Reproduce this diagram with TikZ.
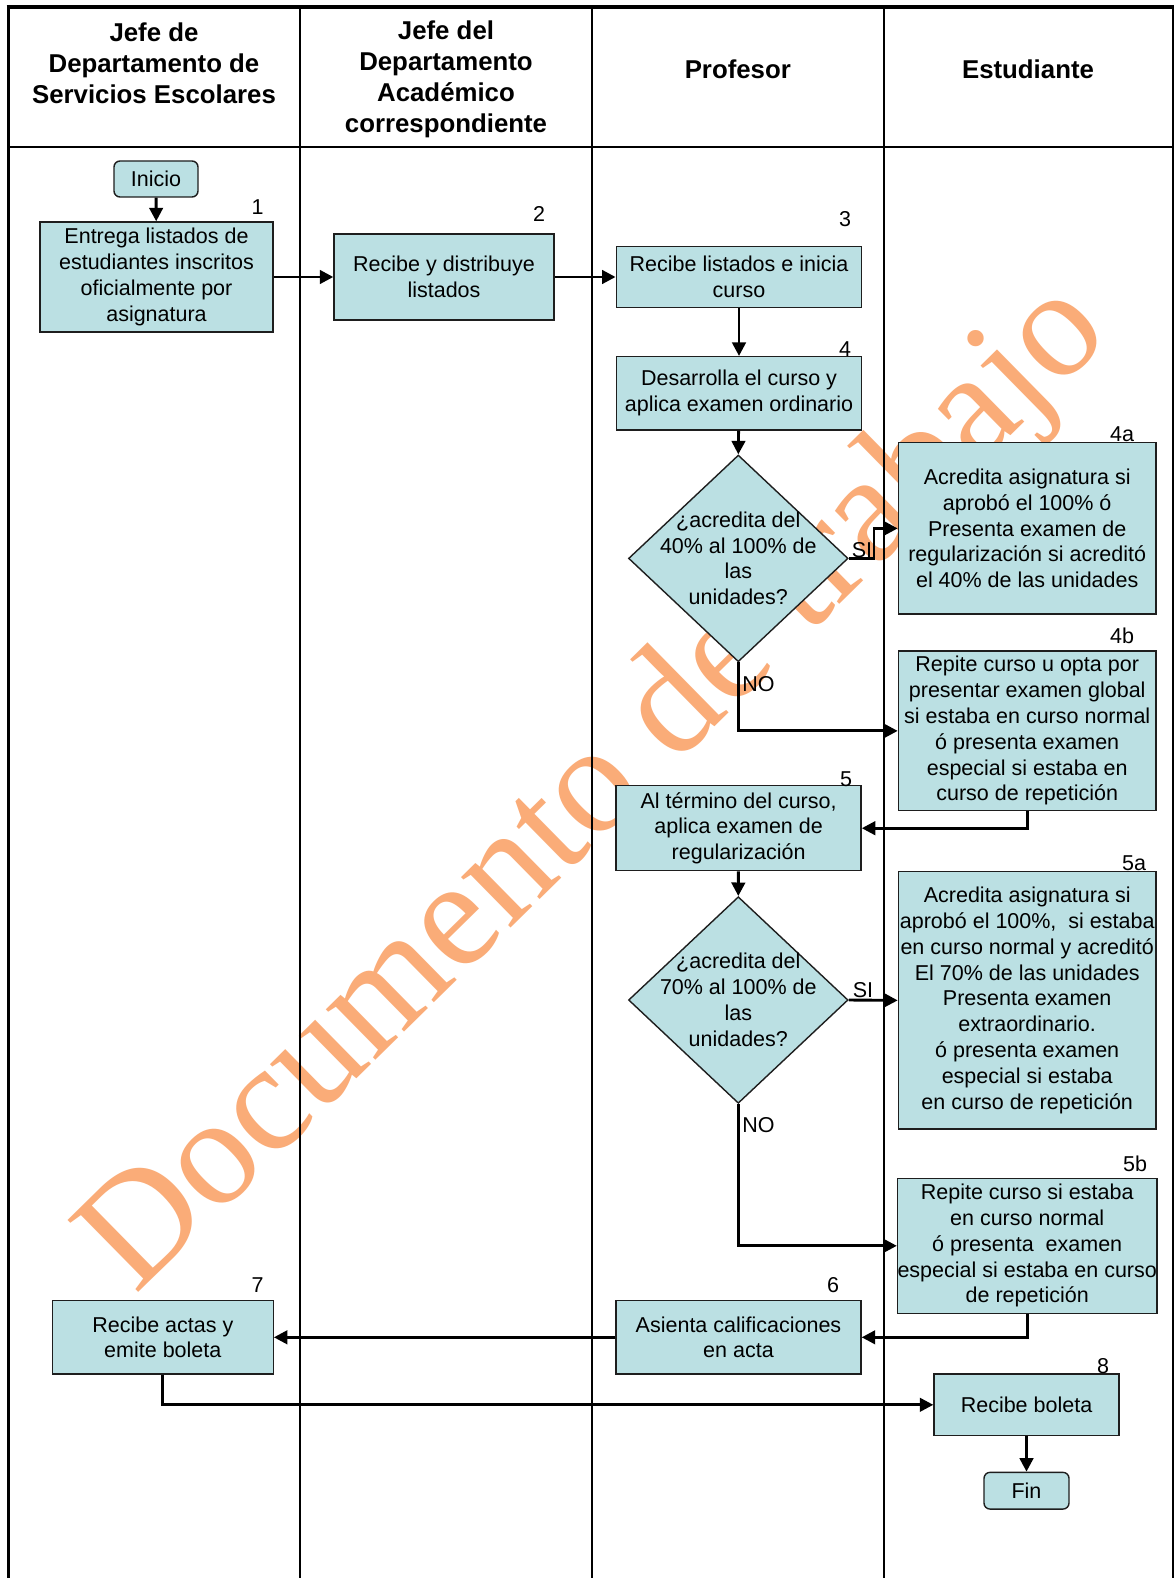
\documentclass[tikz,border=0pt]{standalone}
\usepackage{fontspec}
\setmainfont{Liberation Sans}
\newfontfamily\wmfont{Liberation Serif}
\usetikzlibrary{arrows.meta,shapes.geometric}
\definecolor{boxfill}{RGB}{187,224,227}
\definecolor{wmorange}{RGB}{250,172,120}
\definecolor{edge}{RGB}{30,30,30}
\begin{document}
\begin{tikzpicture}[x=1pt,y=-1pt,
  txt/.style={inner sep=0pt,align=center,font=\fontsize{21.5}{25.8}\selectfont},
  box/.style={txt,draw=edge,line width=1.4pt,fill=boxfill},
  term/.style={box,rounded corners=6pt},
  dia/.style={diamond,draw=edge,line width=1.4pt,fill=boxfill,inner sep=0pt},
  hdr/.style={inner sep=0pt,align=center,font=\fontsize{25.8}{31}\selectfont\bfseries},
  num/.style={inner sep=0pt,font=\fontsize{21.5}{25.8}\selectfont},
  arr/.style={line width=2.9pt,-{Triangle[length=13.5pt,width=13.5pt]}},
  lane/.style={line width=2pt}
]
\useasboundingbox (0,0) rectangle (1174,1578);
\fill[white] (0,0) rectangle (1174,1578);

% watermark
\node[rotate=44.5,inner sep=0pt,text=wmorange,font=\wmfont\fontsize{154}{154}\selectfont] (wm) at (598,790) {Documento de trabajo};

% swimlane frame
\draw[line width=4.3pt] (6.6,7.2) -- (1174,7.2);
\draw[line width=3.3pt] (8.3,5) -- (8.3,1578);
\draw[line width=2.7pt] (8.3,147) -- (1174,147);
\draw[lane] (300,7) -- (300,1578);
\draw[lane] (592,7) -- (592,1578);
\draw[lane] (883.5,7) -- (883.5,1578);
\draw[line width=1.6pt] (1173,7) -- (1173,1578);

% headers
\node[hdr] (h1) at (154,63.4) {Jefe de\\Departamento de\\Servicios Escolares};
\node[hdr] (h2) at (446,79) {Jefe del\\Departamento\\Académico\\correspondiente};
\node[hdr] (h3) at (737.8,69.4) {Profesor};
\node[hdr] (h4) at (1028,69.4) {Estudiante};

% nodes
\node[term,minimum width=84pt,minimum height=36pt] (inicio) at (156,179) {Inicio};
\node[box,minimum width=233pt,minimum height=110pt] (b1) at (156.5,277) {Entrega listados de\\estudiantes inscritos\\oficialmente por\\asignatura};
\node[box,minimum width=220pt,minimum height=86pt] (b2) at (444,277) {Recibe y distribuye\\listados};
\node[box,minimum width=245.5pt,minimum height=60.5pt] (b3) at (739,277) {Recibe listados e inicia\\curso};
\node[box,minimum width=245.5pt,minimum height=73.3pt] (b4) at (739,393.3) {Desarrolla el curso y\\aplica examen ordinario};
\node[dia,minimum width=219.6pt,minimum height=206.7pt] (d1) at (738.3,558.4) {};
\node[txt] (d1t) at (d1.center) {¿acredita del\\40\% al 100\% de\\las\\unidades?};
\node[box,minimum width=257.6pt,minimum height=171.3pt] (b4a) at (1027.2,528.4) {Acredita asignatura si\\aprobó el 100\% ó\\Presenta examen de\\regularización si acreditó\\el 40\% de las unidades};
\node[box,minimum width=257.6pt,minimum height=159.7pt] (b4b) at (1027.2,730.9) {Repite curso u opta por\\presentar examen global\\si estaba en curso normal\\ó presenta examen\\especial si estaba en\\curso de repetición};
\node[box,minimum width=245pt,minimum height=85pt] (b5) at (738.6,828.2) {Al término del curso,\\aplica examen de\\regularización};
\node[dia,minimum width=219.6pt,minimum height=206.6pt] (d2) at (738.3,1000) {};
\node[txt] (d2t) at (d2.center) {¿acredita del\\70\% al 100\% de\\las\\unidades?};
\node[box,minimum width=257.6pt,minimum height=257.3pt] (b5a) at (1027.2,1000.4) {Acredita asignatura si\\aprobó el 100\%,\ \ si estaba\\en curso normal y acreditó\\El 70\% de las unidades\\Presenta examen\\extraordinario.\\ó presenta examen\\especial si estaba\\en curso de repetición};
\node[box,minimum width=257.7pt,minimum height=135pt] (b5b) at (1027.2,1245.8) {Repite curso si estaba\\en curso normal\\ó presenta\ \ examen\\especial si estaba en curso\\de repetición};
\node[box,minimum width=245pt,minimum height=73.3pt] (b6) at (738.5,1337.3) {Asienta calificaciones\\en acta};
\node[box,minimum width=220.8pt,minimum height=73.3pt] (b7) at (162.8,1337.3) {Recibe actas y\\emite boleta};
\node[box,minimum width=185pt,minimum height=61.7pt] (b8) at (1026.5,1404.8) {Recibe boleta};
\node[term,minimum width=85pt,minimum height=36.7pt] (fin) at (1026.5,1490.7) {Fin};

% step numbers
\node[num] (n1) at (257.5,207) {1};
\node[num] (n2) at (539,214) {2};
\node[num] (n3) at (845,219) {3};
\node[num] (n4) at (845,349) {4};
\node[num] (n4a) at (1122,434.5) {4a};
\node[num] (n4b) at (1122,636) {4b};
\node[num] (n5) at (846,779) {5};
\node[num] (n5a) at (1134,863) {5a};
\node[num] (n5b) at (1135,1164) {5b};
\node[num] (n6) at (833,1285) {6};
\node[num] (n7) at (257.5,1285) {7};
\node[num] (n8) at (1103,1366) {8};

% decision labels
\node[num] (si1) at (862,550) {SI};
\node[num] (no1) at (758.5,684.5) {NO};
\node[num] (si2) at (863,990.5) {SI};
\node[num] (no2) at (758.5,1125.5) {NO};

% connectors
\coordinate (j1) at (874,558.4);
\draw[arr] (inicio) -- (b1);
\draw[arr] (b1) -- (b2);
\draw[arr] (b2) -- (b3);
\draw[arr] (b3) -- (b4);
\draw[arr] (b4) -- (d1.north);
\draw[arr] (d1.east) -- (j1) |- (b4a.west);
\draw[arr] (d1.south) |- (b4b.west);
\draw[arr] (b4b.south) |- (b5.east);
\draw[arr] (b5) -- (d2.north);
\draw[arr] (d2.east) -- (b5a.west);
\draw[arr] (d2.south) |- (b5b.west);
\draw[arr] (b5b.south) |- (b6.east);
\draw[arr] (b6) -- (b7);
\draw[arr] (b7.south) |- (b8.west);
\draw[arr] (b8) -- (fin);
\end{tikzpicture}
\end{document}
